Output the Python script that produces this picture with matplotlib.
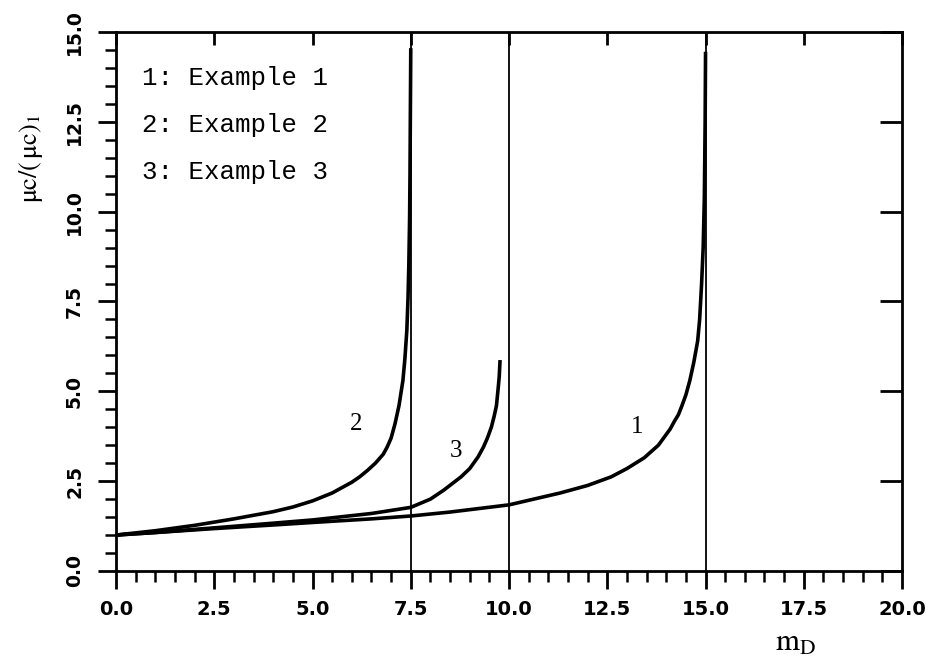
import matplotlib.pyplot as plt
from matplotlib.ticker import MultipleLocator

# curve 1: Example 1, asymptote at m_D = 15
x1 = [0.0, 1.0, 2.5, 4.0, 5.0, 6.5, 7.5, 8.5, 10.0, 11.3, 12.0, 12.6, 13.0, 13.44, 13.8,
      14.0, 14.1, 14.2, 14.31, 14.4, 14.5, 14.6, 14.7, 14.8, 14.85, 14.9, 14.94, 14.97,
      14.99, 15.0]
y1 = [1.0, 1.07, 1.18, 1.28, 1.35, 1.45, 1.53, 1.64, 1.84, 2.17, 2.38, 2.62, 2.85, 3.15, 3.5,
      3.8, 3.95, 4.15, 4.35, 4.6, 4.9, 5.3, 5.8, 6.4, 7.0, 8.0, 9.0, 10.4,
      12.5, 14.4]

# curve 2: Example 2, asymptote at m_D = 7.5
x2 = [0.0, 1.0, 2.0, 3.0, 4.0, 4.5, 5.0, 5.5, 6.0, 6.2, 6.4, 6.6, 6.8, 6.9, 7.0, 7.1, 7.2,
      7.3, 7.35, 7.4, 7.43, 7.45, 7.47, 7.48, 7.49, 7.5]
y2 = [1.0, 1.12, 1.27, 1.45, 1.65, 1.78, 1.95, 2.17, 2.47, 2.62, 2.8, 3.0, 3.25, 3.45, 3.7,
      4.1, 4.6, 5.3, 5.9, 6.7, 7.6, 8.5, 9.8, 11.0, 12.8, 14.5]

# curve 3: Example 3, stops short of m_D = 10
x3 = [0.0, 1.0, 2.5, 4.0, 5.0, 6.5, 7.5, 8.0, 8.34, 8.78, 9.0, 9.21, 9.35, 9.45, 9.55, 9.62,
      9.68, 9.72, 9.75, 9.77]
y3 = [1.0, 1.07, 1.2, 1.33, 1.42, 1.6, 1.77, 2.0, 2.25, 2.62, 2.85, 3.17, 3.45, 3.7, 4.0, 4.3,
      4.6, 5.04, 5.4, 5.82]

limits = [7.5, 10.0, 15.0]
legend_lines = ["1: Example 1", "2: Example 2", "3: Example 3"]

plt.rcParams['mathtext.fontset'] = 'stix'

fig = plt.figure(figsize=(9.31, 6.61), dpi=100)
ax = fig.add_axes([0.1246, 0.1362, 0.8443, 0.8154])

for xv in limits:
    ax.plot([xv, xv], [0, 15], color='black', lw=1.3)

ax.plot(x1, y1, color='black', lw=2.6, solid_joinstyle='round')
ax.plot(x2, y2, color='black', lw=2.6, solid_joinstyle='round')
ax.plot(x3, y3, color='black', lw=2.6, solid_joinstyle='round')

ax.text(13.25, 4.0, "1", fontsize=18, family='Liberation Serif', ha='center', va='center')
ax.text(6.1, 4.1, "2", fontsize=18, family='Liberation Serif', ha='center', va='center')
ax.text(8.65, 3.35, "3", fontsize=18, family='Liberation Serif', ha='center', va='center')

for i, s in enumerate(legend_lines):
    ax.text(0.033, 0.915 - i * 0.087, s, transform=ax.transAxes, fontsize=18.5,
            family='Liberation Mono', ha='left', va='center')

ax.set_xlim(0, 20)
ax.set_ylim(0, 15)
ax.xaxis.set_major_locator(MultipleLocator(2.5))
ax.xaxis.set_minor_locator(MultipleLocator(0.5))
ax.yaxis.set_major_locator(MultipleLocator(2.5))
ax.yaxis.set_minor_locator(MultipleLocator(0.5))

for sp in ax.spines.values():
    sp.set_linewidth(2.0)

ax.tick_params(which='major', direction='out', length=13, width=2.0, top=False, right=False)
ax.tick_params(which='minor', direction='out', length=8, width=1.8, top=False, right=False)
ax.tick_params(axis='x', pad=8)
ax.tick_params(axis='y', pad=10)

# inward marks along the top and right edges
top = ax.secondary_xaxis('top')
top.xaxis.set_major_locator(MultipleLocator(2.5))
top.tick_params(direction='in', length=9, width=2.0, labeltop=False)
top.spines['top'].set_visible(False)
right = ax.secondary_yaxis('right')
right.yaxis.set_major_locator(MultipleLocator(2.5))
right.tick_params(direction='in', length=16, width=2.0, labelright=False)
right.spines['right'].set_visible(False)

ax.set_xticklabels([f"{v:.1f}" for v in ax.get_xticks()])
ax.set_yticklabels([f"{v:.1f}" for v in ax.get_yticks()])
for lab in ax.get_xticklabels():
    lab.set_fontweight('bold')
    lab.set_fontsize(14)
for lab in ax.get_yticklabels():
    lab.set_fontweight('bold')
    lab.set_fontsize(13.5)
    lab.set_rotation(90)
    lab.set_va('center')

ax.set_xlabel(r"$\mathrm{m_D}$", fontsize=22)
ax.xaxis.set_label_coords(0.865, -0.105)
ax.set_ylabel(r"$\mathrm{\mu c/(\,\mu c)_1}$", fontsize=19)
ax.yaxis.set_label_coords(-0.09, 0.765)

fig.savefig("out.png", dpi=100, facecolor='white')
